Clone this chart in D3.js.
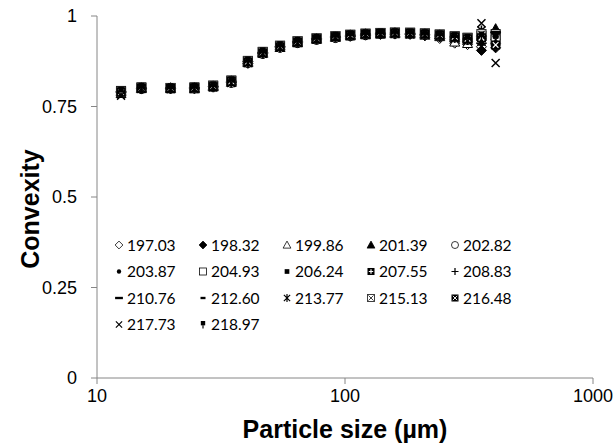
<!DOCTYPE html>
<html>
<head>
<meta charset="utf-8">
<script src="https://cdn.jsdelivr.net/npm/d3@7"></script>
<style>
  body { margin: 0; background: #fff; }
  svg { display: block; }
  .tick-label { font-family: "Liberation Sans", Arial, sans-serif; font-size: 18px; fill: #000; }
  .axis-title { font-family: "Liberation Sans", Arial, sans-serif; font-size: 25px; font-weight: bold; fill: #000; }
  .legend-label { font-family: Lato, "Open Sans", sans-serif; font-size: 15.5px; fill: #000; }
</style>
</head>
<body>
<div id="chart"></div>
<script>
// Particle size classes (µm), shared by every series.
var sizes = [12.5, 15.1, 19.8, 24.7, 29.4, 34.8, 40.6, 46.6, 54.7, 64.4, 76.8, 91.5,
             105, 121, 139, 159, 183, 210, 241, 277, 312, 355, 405];

// Series names, in legend order.
var names = ["197.03", "198.32", "199.86", "201.39", "202.82", "203.87", "204.93", "206.24",
             "207.55", "208.83", "210.76", "212.60", "213.77", "215.13", "216.48", "217.73", "218.97"];

// Marker type for each series.
var markers = ["diamondOpen", "diamond", "triangleOpen", "triangle", "circleOpen", "dot",
               "squareOpen", "square", "squarePlus", "plus", "dash", "dashShort",
               "star", "squareXLight", "squareXDark", "times", "pin"];

// Convexity values, one array per series.
var v19703 = [0.788,0.801,0.799,0.800,0.806,0.820,0.869,0.896,0.914,0.927,0.935,0.940,0.944,0.947,0.949,0.950,0.949,0.945,0.938,0.925,0.921,0.915,0.925];
var v19832 = [0.791,0.799,0.801,0.802,0.804,0.816,0.874,0.899,0.916,0.929,0.937,0.943,0.947,0.950,0.952,0.953,0.951,0.948,0.942,0.934,0.930,0.905,0.912];
var v19986 = [0.786,0.802,0.800,0.799,0.807,0.821,0.871,0.897,0.913,0.926,0.936,0.941,0.945,0.948,0.950,0.951,0.950,0.947,0.943,0.928,0.924,0.935,0.945];
var v20139 = [0.792,0.800,0.802,0.801,0.805,0.817,0.875,0.900,0.917,0.929,0.938,0.944,0.948,0.951,0.953,0.954,0.953,0.951,0.948,0.940,0.936,0.955,0.965];
var v20282 = [0.789,0.798,0.799,0.800,0.803,0.815,0.870,0.895,0.912,0.925,0.934,0.939,0.944,0.947,0.950,0.951,0.951,0.949,0.946,0.942,0.934,0.940,0.920];
var v20387 = [0.790,0.801,0.800,0.802,0.806,0.819,0.873,0.898,0.915,0.928,0.937,0.942,0.946,0.949,0.951,0.953,0.952,0.950,0.947,0.941,0.937,0.925,0.935];
var v20493 = [0.793,0.803,0.801,0.803,0.808,0.822,0.876,0.901,0.918,0.930,0.938,0.944,0.948,0.951,0.953,0.954,0.954,0.952,0.949,0.944,0.940,0.945,0.950];
var v20624 = [0.789,0.800,0.799,0.800,0.804,0.818,0.872,0.897,0.914,0.927,0.936,0.942,0.946,0.949,0.951,0.952,0.951,0.950,0.946,0.940,0.933,0.930,0.925];
var v20755 = [0.791,0.802,0.801,0.801,0.806,0.820,0.874,0.899,0.916,0.929,0.937,0.943,0.947,0.950,0.952,0.953,0.953,0.951,0.948,0.943,0.938,0.950,0.940];
var v20883 = [0.787,0.799,0.800,0.799,0.803,0.816,0.871,0.896,0.913,0.926,0.935,0.941,0.945,0.948,0.950,0.951,0.950,0.948,0.945,0.939,0.932,0.920,0.930];
var v21076 = [0.790,0.800,0.800,0.800,0.805,0.818,0.873,0.898,0.915,0.928,0.936,0.942,0.946,0.949,0.951,0.952,0.952,0.950,0.947,0.941,0.936,0.935,0.955];
var v21260 = [0.792,0.801,0.802,0.802,0.807,0.819,0.874,0.899,0.916,0.929,0.937,0.943,0.947,0.950,0.952,0.953,0.952,0.950,0.947,0.942,0.937,0.945,0.930];
var v21377 = [0.788,0.799,0.799,0.800,0.804,0.817,0.872,0.897,0.914,0.927,0.936,0.942,0.946,0.949,0.951,0.952,0.951,0.949,0.946,0.940,0.935,0.960,0.945];
var v21513 = [0.791,0.801,0.801,0.801,0.806,0.820,0.875,0.900,0.917,0.930,0.938,0.944,0.948,0.951,0.953,0.954,0.953,0.951,0.948,0.943,0.939,0.950,0.935];
var v21648 = [0.790,0.800,0.800,0.801,0.805,0.819,0.873,0.898,0.915,0.928,0.937,0.943,0.947,0.950,0.952,0.953,0.952,0.950,0.947,0.942,0.937,0.940,0.920];
var v21773 = [0.780,0.799,0.798,0.799,0.803,0.815,0.870,0.896,0.913,0.926,0.935,0.941,0.945,0.948,0.950,0.951,0.950,0.948,0.945,0.938,0.931,0.980,0.870];
var v21897 = [0.792,0.803,0.802,0.803,0.807,0.821,0.876,0.901,0.918,0.930,0.938,0.944,0.948,0.951,0.953,0.954,0.953,0.951,0.948,0.943,0.938,0.945,0.940];

var values = [v19703, v19832, v19986, v20139, v20282, v20387, v20493, v20624, v20755,
              v20883, v21076, v21260, v21377, v21513, v21648, v21773, v21897];

// Axis ticks.
var xTicks = [10, 100, 1000];
var yTicks = [0, 0.25, 0.5, 0.75, 1];

// Canvas and plot area.
var width = 615, height = 446;
var plotLeft = 97, plotRight = 593, plotTop = 16, plotBottom = 378;
var axisColor = "#868686";

var svg = d3.select("#chart").append("svg")
    .attr("width", width)
    .attr("height", height);

var x = d3.scaleLog().domain([10, 1000]).range([plotLeft, plotRight]);
var y = d3.scaleLinear().domain([0, 1]).range([plotBottom, plotTop]);

// Draws one marker of the given type centred on (0, 0) inside g.
function drawMarker(g, type) {
    var s = 4.5;
    switch (type) {
    case "diamondOpen":
    case "diamond":
        g.append("path")
            .attr("d", "M0," + (-s - 0.5) + "L" + (s + 0.5) + ",0L0," + (s + 0.5) + "L" + (-s - 0.5) + ",0Z")
            .attr("fill", type == "diamond" ? "#000" : "#fff")
            .attr("stroke", "#000").attr("stroke-width", 1);
        break;
    case "triangleOpen":
    case "triangle":
        g.append("path")
            .attr("d", "M0," + (-s - 0.5) + "L" + (s + 0.5) + "," + (s - 0.5) + "L" + (-s - 0.5) + "," + (s - 0.5) + "Z")
            .attr("fill", type == "triangle" ? "#000" : "#fff")
            .attr("stroke", "#000").attr("stroke-width", 1);
        break;
    case "circleOpen":
        g.append("circle").attr("r", s)
            .attr("fill", "#fff").attr("stroke", "#000").attr("stroke-width", 1);
        break;
    case "dot":
        g.append("circle").attr("r", 2.8).attr("fill", "#000");
        break;
    case "squareOpen":
        g.append("rect").attr("x", -s).attr("y", -s).attr("width", 2 * s).attr("height", 2 * s)
            .attr("fill", "#fff").attr("stroke", "#000").attr("stroke-width", 1);
        break;
    case "square":
        g.append("rect").attr("x", -3).attr("y", -3).attr("width", 6).attr("height", 6)
            .attr("fill", "#000");
        break;
    case "squarePlus":
        g.append("rect").attr("x", -s).attr("y", -s).attr("width", 2 * s).attr("height", 2 * s)
            .attr("fill", "#000");
        g.append("path").attr("d", "M-2.8,0H2.8M0,-2.8V2.8")
            .attr("stroke", "#fff").attr("stroke-width", 1.5);
        break;
    case "plus":
        g.append("path").attr("d", "M-4.5,0H4.5M0,-4.5V4.5")
            .attr("stroke", "#000").attr("stroke-width", 1.6);
        break;
    case "dash":
        g.append("rect").attr("x", -5).attr("y", -1.5).attr("width", 10).attr("height", 3)
            .attr("fill", "#000");
        break;
    case "dashShort":
        g.append("rect").attr("x", -3.2).attr("y", -1.5).attr("width", 6.4).attr("height", 3)
            .attr("fill", "#000");
        break;
    case "star":
        g.append("path").attr("d", "M-4,-4L4,4M4,-4L-4,4M0,-5V5")
            .attr("stroke", "#000").attr("stroke-width", 1.5);
        break;
    case "squareXLight":
        g.append("rect").attr("x", -s).attr("y", -s).attr("width", 2 * s).attr("height", 2 * s)
            .attr("fill", "#fff").attr("stroke", "#333").attr("stroke-width", 1.2);
        g.append("path").attr("d", "M-3.3,-3.3L3.3,3.3M3.3,-3.3L-3.3,3.3")
            .attr("stroke", "#333").attr("stroke-width", 1.2);
        break;
    case "squareXDark":
        g.append("rect").attr("x", -s).attr("y", -s).attr("width", 2 * s).attr("height", 2 * s)
            .attr("fill", "#000");
        g.append("path").attr("d", "M-2.8,-2.8L2.8,2.8M2.8,-2.8L-2.8,2.8")
            .attr("stroke", "#fff").attr("stroke-width", 1.2);
        break;
    case "times":
        g.append("path").attr("d", "M-4,-4L4,4M4,-4L-4,4")
            .attr("stroke", "#000").attr("stroke-width", 1.5);
        break;
    case "pin":
        g.append("rect").attr("x", -2.8).attr("y", -4.5).attr("width", 5.6).attr("height", 5.6)
            .attr("fill", "#000");
        g.append("path").attr("d", "M0,1V5")
            .attr("stroke", "#000").attr("stroke-width", 1.5);
        break;
    }
}

/* -------------------------------------------------------------------------
 * Axes
 * ---------------------------------------------------------------------- */

var yAxis = svg.append("g").attr("id", "y_axis");
yAxis.append("line")
    .attr("x1", plotLeft).attr("x2", plotLeft)
    .attr("y1", y(1)).attr("y2", y(0))
    .attr("stroke", axisColor).attr("stroke-width", 1);
yAxis.selectAll("line.tick")
    .data(yTicks)
    .join("line")
        .attr("class", "tick")
        .attr("x1", plotLeft - 6).attr("x2", plotLeft)
        .attr("y1", d => y(d)).attr("y2", d => y(d))
        .attr("stroke", axisColor).attr("stroke-width", 1);
yAxis.selectAll("text")
    .data(yTicks)
    .join("text")
        .attr("class", "tick-label")
        .attr("x", plotLeft - 20)
        .attr("y", d => y(d))
        .attr("dy", "0.35em")
        .attr("text-anchor", "end")
        .text(d => d3.format("~g")(d));

var xAxis = svg.append("g").attr("id", "x_axis");
xAxis.append("line")
    .attr("x1", x(10)).attr("x2", x(1000))
    .attr("y1", plotBottom).attr("y2", plotBottom)
    .attr("stroke", axisColor).attr("stroke-width", 1);
xAxis.selectAll("line.tick")
    .data(xTicks)
    .join("line")
        .attr("class", "tick")
        .attr("x1", d => x(d)).attr("x2", d => x(d))
        .attr("y1", plotBottom).attr("y2", plotBottom + 6)
        .attr("stroke", axisColor).attr("stroke-width", 1);
xAxis.selectAll("text")
    .data(xTicks)
    .join("text")
        .attr("class", "tick-label")
        .attr("x", d => x(d))
        .attr("y", plotBottom + 24)
        .attr("text-anchor", "middle")
        .text(d => d);

// Axis titles.
svg.append("text")
    .attr("class", "axis-title")
    .attr("transform", "translate(39," + ((plotTop + plotBottom) / 2 + 12) + ") rotate(-90)")
    .attr("text-anchor", "middle")
    .text("Convexity");

svg.append("text")
    .attr("class", "axis-title")
    .attr("x", (plotLeft + plotRight) / 2)
    .attr("y", 438)
    .attr("text-anchor", "middle")
    .text("Particle size (µm)");

/* -------------------------------------------------------------------------
 * Points
 * ---------------------------------------------------------------------- */

var points = svg.append("g").attr("id", "points");
names.forEach(function(name, i) {
    var series = points.append("g").attr("class", "series");
    values[i].forEach(function(v, j) {
        var g = series.append("g")
            .attr("transform", "translate(" + x(sizes[j]) + "," + y(v) + ")");
        drawMarker(g, markers[i]);
    });
});

/* -------------------------------------------------------------------------
 * Legend
 * ---------------------------------------------------------------------- */

var legend = svg.append("g").attr("id", "legend");
var colX = 119, colStep = 84, rowY = 245, rowStep = 26.5;
names.forEach(function(name, i) {
    var col = i % 5, row = Math.floor(i / 5);
    var item = legend.append("g")
        .attr("transform", "translate(" + (colX + col * colStep) + "," + (rowY + row * rowStep) + ")");
    drawMarker(item.append("g").attr("transform", "scale(0.78)"), markers[i]);
    item.append("text")
        .attr("class", "legend-label")
        .attr("x", 8)
        .attr("dy", "0.36em")
        .text(name);
});
</script>
</body>
</html>
